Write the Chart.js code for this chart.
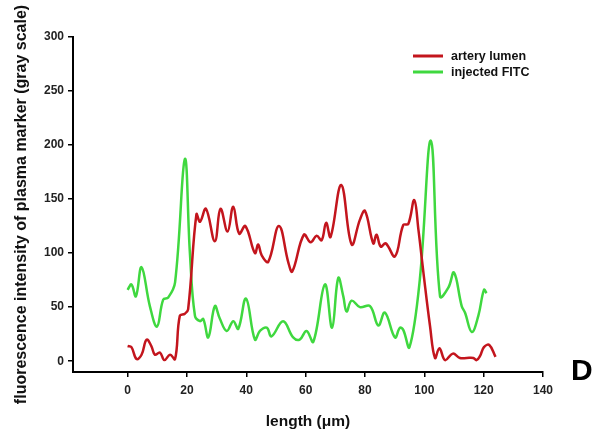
<!DOCTYPE html>
<html>
<head>
<meta charset="utf-8">
<script src="https://cdn.jsdelivr.net/npm/chart.js@4"></script>
<style>
  body { margin: 0; background: #fff; }
  canvas { display: block; }
</style>
</head>
<body>
<canvas id="grafico" width="598" height="435"></canvas>
<script>
// length positions (µm) and gray values
const arteriaX = [0, 1.3, 3, 4.7, 6.4, 8, 9.2, 10.9, 12.4, 14.3, 16, 17.6, 19.3, 20.4, 23.2, 24.4, 26.4, 29.4, 31.3, 33.7, 35.6, 37.6, 39.7, 42.9, 44, 45.2, 47.4, 51, 54.2, 55.5, 59.4, 61.7, 63.7, 65.4, 66.9, 68.4, 72, 75.5, 78.3, 80, 82.8, 83.9, 85.3, 87, 90.1, 92.9, 94.6, 96.6, 98, 99.7, 101.9, 103.6, 105.1, 107, 109.6, 112, 114.3, 116.5, 117.6, 118.8, 120.1, 121.9, 124];
const arteriaY = [14, 13, 2, 6, 20, 14, 6, 8, 1, 6, 2, 42, 44, 48, 136, 129, 141, 111, 141, 120, 143, 118, 125, 100, 108, 98, 92, 125, 91, 83, 117, 110, 116, 112, 128, 115, 163, 108, 131, 139, 109, 117, 106, 109, 97, 126, 127, 149, 122, 82, 33, 3, 12, 1, 7, 3, 3, 3, 1, 5, 13, 15, 4];

const fitcX = [0, 1.3, 2.8, 4.7, 7.5, 9.9, 12, 13.7, 16, 19.3, 21, 22.7, 24.4, 25.5, 27.2, 29.4, 31, 33.4, 35.6, 37.3, 39.9, 42.9, 44.6, 46.9, 48.5, 52.4, 55.8, 58, 60.3, 62.6, 66.5, 68.9, 71, 72.7, 73.8, 75.5, 78.3, 81.7, 84.5, 86.7, 90.1, 91.8, 92.9, 95, 98.5, 102.2, 105.3, 108.1, 110, 112.6, 113.7, 116, 118.2, 120.1, 121];
const fitcY = [66, 71, 60, 87, 51, 32, 57, 59, 73, 187, 100, 42, 37, 39, 22, 51, 40, 28, 37, 30, 58, 20, 28, 31, 23, 37, 22, 20, 28, 18, 71, 31, 77, 60, 46, 56, 50, 51, 33, 45, 22, 31, 29, 13, 76, 204, 60, 68, 82, 51, 45, 27, 42, 66, 63];

const ticksX = [0, 20, 40, 60, 80, 100, 120, 140];
const ticksY = [0, 50, 100, 150, 200, 250, 300];

const corVermelho = '#c3151d';
const corVerde = '#3fd83f';
const fonte = '"Liberation Sans", Arial, sans-serif';

function juntaPontos(xs, ys) {
    return xs.map((x, i) => ({ x: x, y: ys[i] }));
}

// legenda e letra "D" desenhadas à mão
const extras = {
    id: 'extras',
    afterDraw(chart) {
        const ctx = chart.ctx;
        ctx.save();
        const linhas = [
            { cor: corVermelho, texto: chart.data.datasets[0].label, y: 56 },
            { cor: corVerde, texto: chart.data.datasets[1].label, y: 72 }
        ];
        linhas.forEach((l) => {
            ctx.strokeStyle = l.cor;
            ctx.lineWidth = 3;
            ctx.beginPath();
            ctx.moveTo(413, l.y);
            ctx.lineTo(443, l.y);
            ctx.stroke();
            ctx.fillStyle = '#111';
            ctx.font = 'bold 12.5px ' + fonte;
            ctx.textBaseline = 'middle';
            ctx.fillText(l.texto, 451, l.y + 0.5);
        });
        ctx.fillStyle = '#000';
        ctx.font = 'bold 30px ' + fonte;
        ctx.textBaseline = 'alphabetic';
        ctx.fillText('D', 571, 380);
        ctx.restore();
    }
};

const grafico = new Chart(document.getElementById('grafico'), {
    type: 'line',
    data: {
        datasets: [{
            label: 'artery lumen',
            data: juntaPontos(arteriaX, arteriaY),
            borderColor: corVermelho,
            borderWidth: 2.5,
            pointRadius: 0,
            tension: 0.4,
            fill: false
        }, {
            label: 'injected FITC',
            data: juntaPontos(fitcX, fitcY),
            borderColor: corVerde,
            borderWidth: 2.5,
            pointRadius: 0,
            tension: 0.4,
            fill: false
        }]
    },
    options: {
        responsive: false,
        devicePixelRatio: 1,
        animation: false,
        layout: { padding: { top: 37, right: 55, left: 0, bottom: 0 } },
        plugins: {
            legend: { display: false },
            tooltip: { enabled: false }
        },
        scales: {
            x: {
                type: 'linear',
                min: -18.4,
                max: 140,
                afterBuildTicks: (scale) => { scale.ticks = ticksX.map(v => ({ value: v })); },
                afterFit: (scale) => { scale.height = 63; },
                grid: { drawOnChartArea: false, color: '#000', lineWidth: 1.5, tickLength: 5 },
                border: { display: true, color: '#000', width: 2 },
                ticks: {
                    color: '#222',
                    padding: 6,
                    maxRotation: 0,
                    font: { family: fonte, size: 12, weight: 'bold' }
                },
                title: {
                    display: true,
                    text: 'length (μm)',
                    color: '#111',
                    padding: { top: 0, bottom: 4 },
                    font: { family: fonte, size: 15.5, weight: 'bold' }
                }
            },
            y: {
                min: -10,
                max: 300,
                afterBuildTicks: (scale) => { scale.ticks = ticksY.map(v => ({ value: v })); },
                afterFit: (scale) => { scale.width = 73; },
                grid: { drawOnChartArea: false, color: '#000', lineWidth: 1.5, tickLength: 5 },
                border: { display: true, color: '#000', width: 2 },
                ticks: {
                    color: '#222',
                    padding: 4,
                    font: { family: fonte, size: 12, weight: 'bold' }
                },
                title: {
                    display: true,
                    text: 'fluorescence intensity of plasma marker (gray scale)',
                    color: '#111',
                    padding: { top: 12, bottom: 0 },
                    font: { family: fonte, size: 16, weight: 'bold' }
                }
            }
        }
    },
    plugins: [extras]
});
</script>
</body>
</html>
